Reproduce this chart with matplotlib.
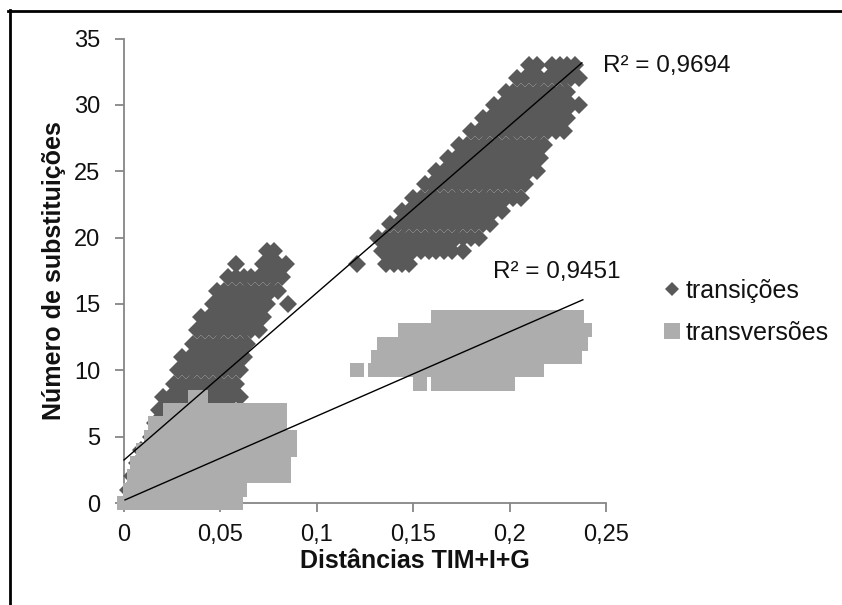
import matplotlib
matplotlib.use('Agg')
import matplotlib.pyplot as plt
from matplotlib.lines import Line2D
import numpy as np

plt.rcParams['font.family'] = ['Liberation Sans', 'DejaVu Sans']

# ---------------- data ----------------
# transições: rows of (number of substitutions, [distances])
transicoes_linhas = [
    (33, [0.210, 0.214, 0.222, 0.226, 0.230, 0.234]),
    (32, [0.204, 0.208, 0.212, 0.216, 0.220, 0.224, 0.228, 0.232, 0.236]),
    (31, [0.198, 0.202, 0.206, 0.210, 0.214, 0.218, 0.222, 0.226, 0.230]),
    (30, [0.192, 0.196, 0.200, 0.204, 0.208, 0.212, 0.216, 0.220, 0.224, 0.228, 0.232, 0.236]),
    (29, [0.186, 0.190, 0.194, 0.198, 0.202, 0.206, 0.210, 0.214, 0.218, 0.222, 0.226, 0.230]),
    (28, [0.180, 0.184, 0.188, 0.192, 0.196, 0.200, 0.204, 0.208, 0.212, 0.216, 0.220, 0.224, 0.228]),
    (27, [0.174, 0.178, 0.182, 0.186, 0.190, 0.194, 0.198, 0.202, 0.206, 0.210, 0.214, 0.218]),
    (26, [0.168, 0.172, 0.176, 0.180, 0.184, 0.188, 0.192, 0.196, 0.200, 0.204, 0.208, 0.212, 0.216]),
    (25, [0.162, 0.166, 0.170, 0.174, 0.178, 0.182, 0.186, 0.190, 0.194, 0.198, 0.202, 0.206, 0.210, 0.214]),
    (24, [0.156, 0.160, 0.164, 0.168, 0.172, 0.176, 0.180, 0.184, 0.188, 0.192, 0.196, 0.200, 0.204, 0.208]),
    (23, [0.150, 0.154, 0.158, 0.162, 0.166, 0.170, 0.174, 0.178, 0.182, 0.186, 0.190, 0.194, 0.198, 0.202, 0.206]),
    (22, [0.144, 0.148, 0.152, 0.156, 0.160, 0.164, 0.168, 0.172, 0.176, 0.180, 0.184, 0.188, 0.192, 0.196]),
    (21, [0.138, 0.142, 0.146, 0.150, 0.154, 0.158, 0.162, 0.166, 0.170, 0.174, 0.178, 0.182, 0.186, 0.190]),
    (20, [0.132, 0.136, 0.140, 0.144, 0.148, 0.152, 0.156, 0.160, 0.164, 0.168, 0.172, 0.176, 0.180, 0.184]),
    (19, [0.134, 0.138, 0.142, 0.146, 0.150, 0.154, 0.158, 0.162, 0.166, 0.170, 0.176]),
    (18, [0.121, 0.136, 0.140, 0.144, 0.148]),
    # lower group
    (19, [0.074, 0.078]),
    (18, [0.058, 0.072, 0.076, 0.080, 0.084]),
    (17, [0.054, 0.058, 0.062, 0.066, 0.070, 0.074, 0.078, 0.082]),
    (16, [0.048, 0.052, 0.056, 0.060, 0.064, 0.068, 0.072, 0.076, 0.080]),
    (15, [0.046, 0.050, 0.054, 0.058, 0.062, 0.066, 0.070, 0.074, 0.085]),
    (14, [0.040, 0.044, 0.048, 0.052, 0.056, 0.060, 0.064, 0.068, 0.072]),
    (13, [0.038, 0.042, 0.046, 0.050, 0.054, 0.058, 0.062, 0.066, 0.070]),
    (12, [0.036, 0.040, 0.044, 0.048, 0.052, 0.056, 0.060, 0.064]),
    (11, [0.030, 0.034, 0.038, 0.042, 0.046, 0.050, 0.054, 0.058, 0.062]),
    (10, [0.028, 0.032, 0.036, 0.040, 0.044, 0.048, 0.052, 0.056, 0.060]),
    (9,  [0.026, 0.030, 0.034, 0.038, 0.042, 0.046, 0.050, 0.054, 0.058]),
    (8,  [0.020, 0.024, 0.028, 0.032, 0.036, 0.040, 0.044, 0.048, 0.052, 0.056, 0.060]),
    (7,  [0.018, 0.022, 0.026, 0.030, 0.034, 0.038, 0.042, 0.046, 0.050, 0.054]),
    (6,  [0.016, 0.020, 0.024, 0.028, 0.032, 0.036, 0.040, 0.044, 0.048]),
    (5,  [0.014, 0.018, 0.022, 0.026, 0.030, 0.034, 0.038, 0.042]),
    (4,  [0.009, 0.012, 0.016, 0.020, 0.024, 0.028, 0.032]),
    (3,  [0.007, 0.010, 0.014, 0.018, 0.022, 0.026]),
    (2,  [0.004, 0.008, 0.012, 0.016]),
    (1,  [0.002, 0.006, 0.010]),
]

# transversões: rows of (number of substitutions, [distances])
transversoes_linhas = [
    (14, [0.163, 0.169, 0.175, 0.181, 0.187, 0.193, 0.199, 0.205, 0.211, 0.217, 0.223, 0.229, 0.235]),
    (13, [0.146, 0.152, 0.158, 0.164, 0.170, 0.176, 0.182, 0.188, 0.194, 0.200, 0.206, 0.212, 0.218,
          0.224, 0.230, 0.236, 0.239]),
    (12, [0.135, 0.141, 0.147, 0.153, 0.159, 0.165, 0.171, 0.177, 0.183, 0.189, 0.195, 0.201, 0.207,
          0.213, 0.219, 0.225, 0.231, 0.237]),
    (11, [0.132, 0.138, 0.144, 0.150, 0.156, 0.162, 0.168, 0.174, 0.180, 0.186, 0.192, 0.198, 0.204,
          0.210, 0.216, 0.222, 0.228, 0.234]),
    (10, [0.121, 0.130, 0.136, 0.142, 0.148, 0.154, 0.160, 0.166, 0.172, 0.178, 0.184, 0.190, 0.196,
          0.202, 0.208, 0.214]),
    (9,  [0.1535, 0.163, 0.169, 0.175, 0.181, 0.187, 0.193, 0.199]),
    # lower group
    (8, [0.037, 0.040]),
    (7, [0.024, 0.030, 0.036, 0.042, 0.048, 0.054, 0.060, 0.066, 0.072, 0.078, 0.081]),
    (6, [0.016, 0.022, 0.028, 0.034, 0.040, 0.046, 0.052, 0.058, 0.064, 0.070, 0.076, 0.081]),
    (5, [0.014, 0.020, 0.026, 0.032, 0.038, 0.044, 0.050, 0.056, 0.062, 0.068, 0.074, 0.080, 0.086]),
    (4, [0.010, 0.016, 0.022, 0.028, 0.034, 0.040, 0.046, 0.052, 0.058, 0.064, 0.070, 0.076, 0.082, 0.086]),
    (3, [0.007, 0.013, 0.019, 0.025, 0.031, 0.037, 0.043, 0.049, 0.055, 0.061, 0.067, 0.073, 0.079, 0.083]),
    (2, [0.005, 0.011, 0.017, 0.023, 0.029, 0.035, 0.041, 0.047, 0.053, 0.059, 0.065, 0.071, 0.077, 0.083]),
    (1, [0.003, 0.009, 0.015, 0.021, 0.027, 0.033, 0.039, 0.045, 0.051, 0.057, 0.060]),
    (0, [0.000, 0.006, 0.012, 0.018, 0.024, 0.030, 0.036, 0.042, 0.048, 0.054, 0.058]),
]

# linear trend lines (slope, intercept, x-range) and R² labels
tendencia_transicoes = (126.0, 3.24)
tendencia_transicoes_x = [0.0, 0.2375]
tendencia_transversoes = (63.5, 0.2)
tendencia_transversoes_x = [0.0005, 0.238]
r2_textos = ['R² = 0,9694', 'R² = 0,9451']

x_ticks = [0, 0.05, 0.1, 0.15, 0.2, 0.25]
x_tick_labels = ['0', '0,05', '0,1', '0,15', '0,2', '0,25']
y_ticks = [0, 5, 10, 15, 20, 25, 30, 35]
serie_nomes = ['transições', 'transversões']

cor_transicoes = '#595959'
cor_transversoes = '#ADADAD'
cor_eixo = '#868686'

# ---------------- figure ----------------
W, H = 842, 605
fig = plt.figure(figsize=(W / 100, H / 100), dpi=100)
ax = fig.add_axes([124 / W, 1 - 503 / H, 482 / W, 464.5 / H])


def achatar(linhas):
    xs, ys = [], []
    for y, row in linhas:
        xs.extend(row)
        ys.extend([y] * len(row))
    return xs, ys


tx, ty = achatar(transicoes_linhas)
vx, vy = achatar(transversoes_linhas)

ax.plot(tx, ty, linestyle='none', marker='D', markersize=9.2, markeredgewidth=0,
        color=cor_transicoes, clip_on=False, zorder=3)
ax.plot(vx, vy, linestyle='none', marker='s', markersize=10.2, markeredgewidth=0,
        color=cor_transversoes, clip_on=False, zorder=4)

for (k, b), xr in [(tendencia_transicoes, tendencia_transicoes_x),
                   (tendencia_transversoes, tendencia_transversoes_x)]:
    xr = np.array(xr)
    ax.plot(xr, b + k * xr, color='black', linewidth=1.0, zorder=5, clip_on=False)

ax.text(0.2484, 32.93, r2_textos[0], fontsize=17.5, ha='left', va='center', color='#111111')
ax.text(0.1914, 17.41, r2_textos[1], fontsize=17.5, ha='left', va='center', color='#111111')

ax.set_xlim(0, 0.25)
ax.set_ylim(0, 35)
ax.set_xticks(x_ticks)
ax.set_xticklabels(x_tick_labels)
ax.set_yticks(y_ticks)
ax.set_yticklabels([str(v) for v in y_ticks])

for s in ['top', 'right']:
    ax.spines[s].set_visible(False)
for s in ['left', 'bottom']:
    ax.spines[s].set_color(cor_eixo)
    ax.spines[s].set_linewidth(1.3)
    ax.spines[s].set_zorder(2)
ax.tick_params(axis='both', colors=cor_eixo, labelcolor='#111111', labelsize=17,
               length=6.5, width=1.3, direction='out')
ax.tick_params(axis='y', pad=10.5)
ax.tick_params(axis='x', pad=8.5)
ax.patch.set_alpha(0)

ax.set_xlabel('Distâncias TIM+I+G', fontsize=18, fontweight='bold', color='#111111')
ax.xaxis.set_label_coords(0.604, -0.125)
ax.xaxis.label.set_va('center')
ax.set_ylabel('Número de substituições', fontsize=18, fontweight='bold', color='#111111')
ax.yaxis.set_label_coords(-0.146, 0.5)
ax.yaxis.label.set_va('center')

h1 = Line2D([], [], linestyle='none', marker='D', markersize=7, markeredgewidth=0, color=cor_transicoes)
h2 = Line2D([], [], linestyle='none', marker='s', markersize=11, markeredgewidth=0, color=cor_transversoes)
leg = ax.legend([h1, h2], serie_nomes, loc='center left',
                bbox_to_anchor=(664 / W, 1 - 312 / H), bbox_transform=fig.transFigure,
                frameon=False, fontsize=18, handlelength=0.6, handletextpad=0.25,
                borderpad=0, borderaxespad=0, labelspacing=0.72)
for t in leg.get_texts():
    t.set_color('#111111')

# outer frame (top and left edges visible in the picture)
fig.add_artist(Line2D([8 / W, 1.0], [1 - 11 / H, 1 - 11 / H], transform=fig.transFigure,
                      color='black', linewidth=2.0))
fig.add_artist(Line2D([10 / W, 10 / W], [1 - 10 / H, 0.0], transform=fig.transFigure,
                      color='black', linewidth=2.0))

fig.savefig('out.png', dpi=100)
